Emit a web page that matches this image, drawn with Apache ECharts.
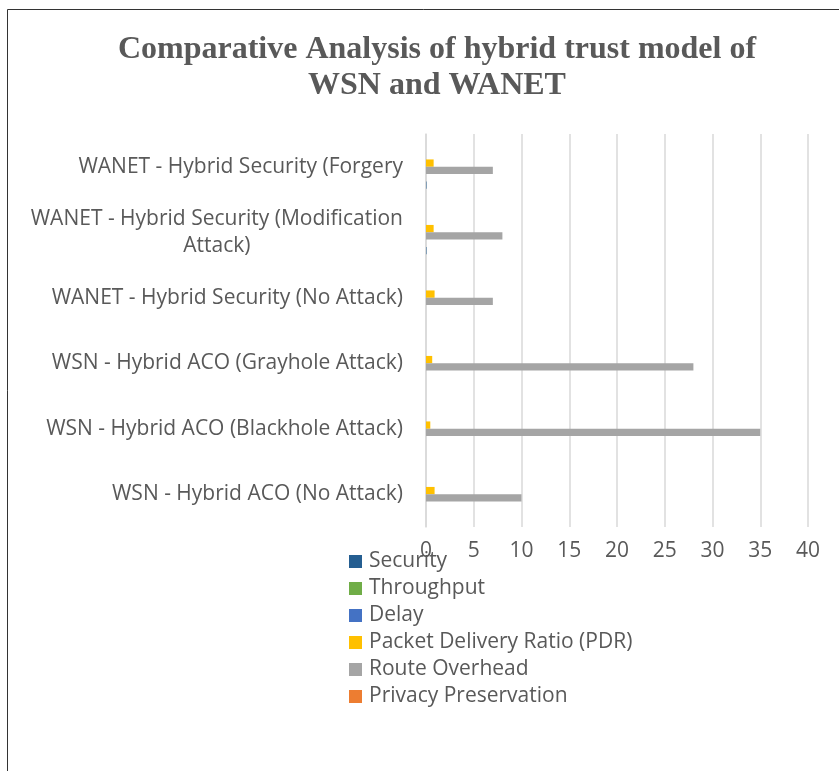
<!DOCTYPE html>
<html>
<head>
<meta charset="utf-8">
<script src="https://cdn.jsdelivr.net/npm/echarts@6/dist/echarts.min.js"></script>
<style>
  html, body { margin: 0; padding: 0; background: #ffffff; }
  #chart { width: 839px; height: 771px; }
</style>
</head>
<body>
<div id="chart"></div>
<script>
// Categories, listed from the bottom of the axis to the top
const categories = [
  'WSN - Hybrid ACO (No Attack)',
  'WSN - Hybrid ACO (Blackhole Attack)',
  'WSN - Hybrid ACO (Grayhole Attack)',
  'WANET - Hybrid Security (No Attack)',
  'WANET - Hybrid Security (Modification\nAttack)',
  'WANET - Hybrid Security (Forgery'
];

// Series values, one per category
const security      = [0, 0, 0, 0, 0.05, 0.05];
const throughput    = [0, 0, 0, 0, 0, 0];
const delay         = [0, 0, 0, 0, 0, 0];
const pdr           = [0.9, 0.45, 0.65, 0.9, 0.8, 0.8];
const routeOverhead = [10, 35, 28, 7, 8, 7];
const privacy       = [0, 0, 0, 0, 0, 0];

// Value axis ticks
const xTicks = [0, 5, 10, 15, 20, 25, 30, 35, 40];

const legendOrder = [
  'Security', 'Throughput', 'Delay',
  'Packet Delivery Ratio (PDR)', 'Route Overhead', 'Privacy Preservation'
];

const textColor = '#595959';
const uiFont = '"Open Sans", Lato, sans-serif';
const uiSize = 21;

function bar(name, data, color) {
  return {
    name: name,
    type: 'bar',
    data: data,
    itemStyle: { color: color },
    barGap: '0%',
    barCategoryGap: '33%'
  };
}

const chart = echarts.init(document.getElementById('chart'), null, { renderer: 'canvas' });

chart.setOption({
  backgroundColor: '#ffffff',
  animation: false,
  title: {
    text: 'Comparative Analysis of hybrid trust model of\nWSN and WANET',
    top: 27,
    textAlign: 'center',
    left: 432,
    textStyle: {
      fontFamily: '"Liberation Serif", "Times New Roman", serif',
      fontWeight: 'bold',
      fontSize: 32,
      lineHeight: 36,
      color: textColor
    }
  },
  graphic: [{
    type: 'rect',
    shape: { x: 7.5, y: 9.5, width: 900, height: 900 },
    style: { fill: 'none', stroke: '#333333', lineWidth: 1 },
    silent: true
  }],
  legend: {
    data: legendOrder,
    orient: 'vertical',
    left: 349,
    top: 551,
    padding: 0,
    itemWidth: 13,
    itemHeight: 13,
    itemGap: 6,
    icon: 'rect',
    textStyle: { fontFamily: uiFont, fontSize: uiSize, color: textColor, lineHeight: 21, padding: [0, 0, 0, 2] }
  },
  grid: { left: 426, right: 31, top: 134, bottom: 244, containLabel: false },
  xAxis: {
    type: 'value',
    min: xTicks[0],
    max: xTicks[xTicks.length - 1],
    interval: 5,
    axisLine: { show: false },
    axisTick: { show: false },
    splitLine: { show: true, lineStyle: { color: '#d9d9d9', width: 1.5 } },
    axisLabel: { fontFamily: uiFont, fontSize: uiSize, color: textColor, margin: 14 }
  },
  yAxis: {
    type: 'category',
    data: categories,
    axisLine: { show: true, lineStyle: { color: '#d9d9d9', width: 1.5 } },
    axisTick: { show: false },
    axisLabel: {
      margin: 23,
      fontFamily: uiFont,
      fontSize: uiSize,
      color: textColor,
      formatter: function (v) {
        return v.split('\n').map(function (l) { return '{c|' + l + '}'; }).join('\n');
      },
      rich: { c: { align: 'center', fontFamily: uiFont, fontSize: uiSize, color: textColor, lineHeight: 27 } }
    }
  },
  series: [
    bar('Throughput', throughput, '#70AD47'),
    bar('Delay', delay, '#4472C4'),
    bar('Packet Delivery Ratio (PDR)', pdr, '#FFC000'),
    bar('Route Overhead', routeOverhead, '#A5A5A5'),
    bar('Privacy Preservation', privacy, '#ED7D31'),
    bar('Security', security, '#255E91')
  ]
});
</script>
</body>
</html>
